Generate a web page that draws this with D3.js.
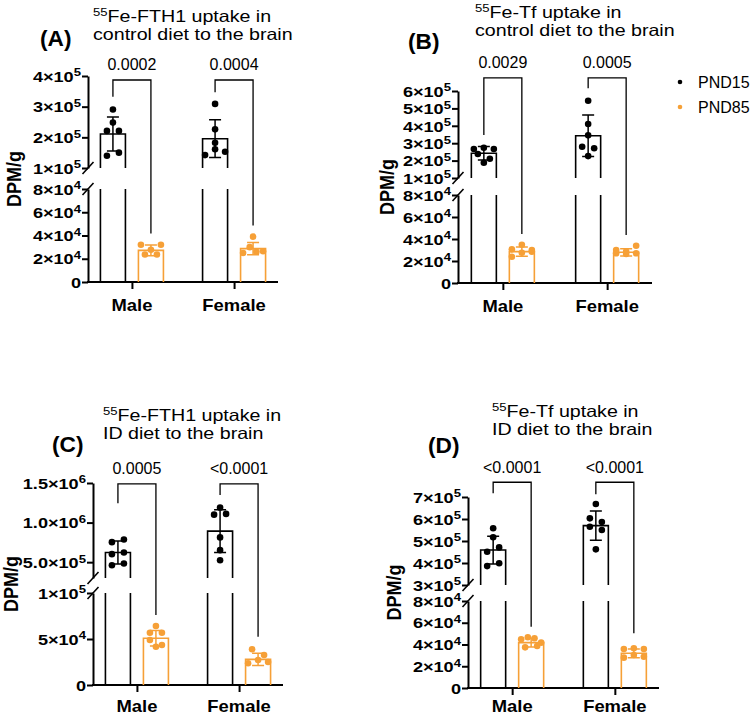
<!DOCTYPE html>
<html><head><meta charset="utf-8">
<script src="https://cdn.jsdelivr.net/npm/d3@7"></script>
<style>body{margin:0;background:#fff}svg{display:block}</style>
</head><body><svg id="c" width="750" height="718"></svg>
<script>
// ---------- DATA ----------
const categories = ["Male", "Female"];
const series = ["PND15", "PND85"];
const panelLetters = ["(A)", "(B)", "(C)", "(D)"];
const titleSup = "55";
const titleLine1 = ["Fe-FTH1 uptake in", "Fe-Tf uptake in", "Fe-FTH1 uptake in", "Fe-Tf uptake in"];
const titleLine2 = ["control diet to the brain", "control diet to the brain", "ID diet to the brain", "ID diet to the brain"];
const yLabel = "DPM/g";

// Panel A
const aMean15 = [2.11e5, 1.955e5], aSd15 = [0.555e5, 0.615e5];
const aMean85 = [2.72e4, 2.87e4], aSd85 = [0.465e4, 0.525e4];
const aPts15Male = [2.21e5, 1.40e5, 2.91e5, 2.48e5, 2.21e5, 1.50e5];
const aPts15Female = [1.42e5, 3.09e5, 2.26e5, 1.82e5, 1.61e5, 1.53e5];
const aPts85Male = [3.2e4, 2.36e4, 2.78e4, 3.2e4, 2.36e4];
const aPts85Female = [2.5e4, 3.9e4, 3.0e4, 2.6e4, 2.65e4];
const aPValues = ["0.0002", "0.0004"];
const aLowerTicks = [0, 2e4, 4e4, 6e4, 8e4], aUpperTicks = [1e5, 2e5, 3e5, 4e5];
const aLowerDomain = [0, 8e4], aUpperDomain = [1e5, 4e5];
const aBracketLevel = 3.87e5, aBracketLeft = [3.32e5, 3.47e5], aBracketRight = [4.17e4, 4.85e4];

// Panel B
const bMean15 = [2.42e5, 3.43e5], bSd15 = [0.385e5, 1.19e5];
const bMean85 = [2.85e4, 2.79e4], bSd85 = [0.42e4, 0.33e4];
const bPts15Male = [2.67e5, 1.88e5, 2.74e5, 2.38e5, 2.67e5, 2.11e5];
const bPts15Female = [2.80e5, 5.44e5, 4.10e5, 3.45e5, 2.26e5, 2.71e5];
const bPts85Male = [2.39e4, 3.06e4, 3.48e4, 2.75e4, 3.0e4, 2.85e4];
const bPts85Female = [2.7e4, 3.0e4, 2.85e4, 2.64e4, 3.39e4, 2.7e4];
const bPValues = ["0.0029", "0.0005"];
const bLowerTicks = [0, 2e4, 4e4, 6e4, 8e4], bUpperTicks = [1e5, 2e5, 3e5, 4e5, 5e5, 6e5];
const bLowerDomain = [0, 8e4], bUpperDomain = [1e5, 6e5];
const bBracketLevel = 6.75e5, bBracketLeft = [3.47e5, 6.16e5], bBracketRight = [4.45e4, 4.36e4];

// Panel C
const cMean15 = [6.23e5, 8.92e5], cSd15 = [1.45e5, 2.7e5];
const cMean85 = [5.08e4, 2.79e4], cSd85 = [0.85e4, 0.67e4];
const cPts15Male = [7.53e5, 6.01e5, 4.62e5, 7.87e5, 6.23e5, 4.83e5];
const cPts15Female = [1.10e6, 1.19e6, 8.13e5, 6.52e5, 5.25e5, 1.11e6];
const cPts85Male = [5.68e4, 4.16e4, 6.41e4, 4.89e4, 5.68e4, 4.35e4];
const cPts85Female = [2.36e4, 3.88e4, 3.26e4, 2.72e4, 2.5e4];
const cPValues = ["0.0005", "<0.0001"];
const cLowerTicks = [0, 5e4, 1e5], cUpperTicks = [5e5, 1e6, 1.5e6];
const cLowerDomain = [0, 1e5], cUpperDomain = [3e5, 1.5e6];
const cBracketLevel = 1.49e6, cBracketLeft = [1.243e6, 1.348e6], cBracketRight = [7.6e4, 5.25e4];

// Panel D
const dMean15 = [4.59e5, 5.7e5], dSd15 = [0.63e5, 0.665e5];
const dMean85 = [4.17e4, 3.19e4], dSd85 = [0.4e4, 0.4e4];
const dPts15Male = [4.51e5, 3.86e5, 5.58e5, 5.17e5, 4.71e5, 3.99e5];
const dPts15Female = [6.03e5, 6.68e5, 5.65e5, 4.62e5, 5.86e5, 5.5e5];
const dPts85Male = [3.74e4, 4.48e4, 4.66e4, 4.57e4, 3.86e4, 4.17e4];
const dPts85Female = [3.59e4, 2.79e4, 3.65e4, 3.03e4, 3.59e4, 2.88e4];
const dPValues = ["<0.0001", "<0.0001"];
const dLowerTicks = [0, 2e4, 4e4, 6e4, 8e4], dUpperTicks = [3e5, 4e5, 5e5, 6e5, 7e5];
const dLowerDomain = [0, 8e4], dUpperDomain = [3e5, 7e5];
const dBracketLevel = 7.67e5, dBracketLeft = [7.17e5, 7.12e5], dBracketRight = [5.64e4, 5.03e4];

// ---------- assembled per-panel data ----------
const panelData = [
  {means: [aMean15, aMean85], sds: [aSd15, aSd85], pts: [[aPts15Male, aPts15Female], [aPts85Male, aPts85Female]],
   p: aPValues, lowerTicks: aLowerTicks, upperTicks: aUpperTicks, lowerDomain: aLowerDomain, upperDomain: aUpperDomain,
   level: aBracketLevel, bl: aBracketLeft, br: aBracketRight, upperDec: 0},
  {means: [bMean15, bMean85], sds: [bSd15, bSd85], pts: [[bPts15Male, bPts15Female], [bPts85Male, bPts85Female]],
   p: bPValues, lowerTicks: bLowerTicks, upperTicks: bUpperTicks, lowerDomain: bLowerDomain, upperDomain: bUpperDomain,
   level: bBracketLevel, bl: bBracketLeft, br: bBracketRight, upperDec: 0},
  {means: [cMean15, cMean85], sds: [cSd15, cSd85], pts: [[cPts15Male, cPts15Female], [cPts85Male, cPts85Female]],
   p: cPValues, lowerTicks: cLowerTicks, upperTicks: cUpperTicks, lowerDomain: cLowerDomain, upperDomain: cUpperDomain,
   level: cBracketLevel, bl: cBracketLeft, br: cBracketRight, upperDec: 1},
  {means: [dMean15, dMean85], sds: [dSd15, dSd85], pts: [[dPts15Male, dPts15Female], [dPts85Male, dPts85Female]],
   p: dPValues, lowerTicks: dLowerTicks, upperTicks: dUpperTicks, lowerDomain: dLowerDomain, upperDomain: dUpperDomain,
   level: dBracketLevel, bl: dBracketLeft, br: dBracketRight, upperDec: 0}
];

// ---------- LAYOUT ----------
const layouts = [
  {axisX: 88, axisEnd: 278, lowerRange: [282, 189], upperRange: [168, 76], tx: 93, ty1: 21.5, ty2: 40, lx: 40, ly: 45.5, yx: 20.5, yy: 179},
  {axisX: 458, axisEnd: 652, lowerRange: [283, 195], upperRange: [178, 91], tx: 475, ty1: 17.5, ty2: 35.5, lx: 408, ly: 49, yx: 394, yy: 187},
  {axisX: 93, axisEnd: 283, lowerRange: [685, 593], upperRange: [578, 483], tx: 103, ty1: 420.5, ty2: 438.5, lx: 52, ly: 452, yx: 18, yy: 584},
  {axisX: 468, axisEnd: 659, lowerRange: [688, 601], upperRange: [585, 497], tx: 492, ty1: 417, ty2: 435, lx: 428, ly: 452.5, yx: 401, yy: 592.5}
];
const FONT = "'Liberation Sans', Arial, Helvetica, sans-serif";
const ORANGE = "#F6A037";
const colorOf = {PND15: "#000000", PND85: ORANGE};
const R = 3.3;

const svg = d3.select("#c");

function txt(parent, x, y, sx, size, weight, anchor) {
  return parent.append("text")
    .attr("transform", `translate(${x},${y}) scale(${sx},1)`)
    .attr("font-family", FONT).attr("font-size", size).attr("font-weight", weight)
    .attr("text-anchor", anchor).attr("fill", "#000");
}

function sciParts(v, dec) {
  if (v === 0) return ["0", null];
  const e = Math.floor(Math.log10(v) + 1e-9);
  const m = v / Math.pow(10, e);
  return [m.toFixed(dec) + "\u00d710", String(e)];
}

function rowLayout(vals, yf) {
  const items = vals.map((v, i) => ({v, i, y: yf(v)}));
  const sorted = items.slice().sort((a, b) => a.y - b.y || a.i - b.i);
  const rows = [];
  let cur = null;
  for (const it of sorted) {
    if (cur && it.y - cur[0].y < 6) cur.push(it);
    else { cur = [it]; rows.push(cur); }
  }
  for (const row of rows) {
    row.sort((a, b) => a.i - b.i);
    const k = row.length;
    const s = k > 1 ? Math.min(12, 20 / (k - 1)) : 0;
    row.forEach((it, j) => { it.dx = (j - (k - 1) / 2) * s; });
  }
  return items;
}

function drawPanel(L, D, pi) {
  const g = svg.append("g");
  const x = d3.scalePoint().domain(categories).range([L.axisX, L.axisEnd]).padding(0.43);
  const xs = d3.scaleBand().domain(series).range([-31.5, 31.5]).paddingInner(0.342);
  const lower = d3.scaleLinear().domain(D.lowerDomain).range(L.lowerRange);
  const upper = d3.scaleLinear().domain(D.upperDomain).range(L.upperRange);
  const brk = D.lowerDomain[1];
  const y = v => v > brk ? upper(v) : lower(v);
  const base = lower(0);
  const bw = xs.bandwidth();
  const cxOf = (c, s) => x(c) + xs(s) + bw / 2;

  // y axis segments
  [[lower, D.lowerTicks, 0], [upper, D.upperTicks, D.upperDec]].forEach(([sc, ticks, dec]) => {
    const ax = g.append("g").attr("transform", `translate(${L.axisX},0)`)
      .call(d3.axisLeft(sc).tickValues(ticks).tickSize(6).tickSizeOuter(0).tickFormat(""));
    ax.selectAll(".domain,.tick line").attr("stroke", "#000").attr("stroke-width", 2);
    ax.selectAll(".tick").each(function (d) {
      const [main, sup] = sciParts(d, dec);
      const t = txt(d3.select(this), -7, 0, 1.25, 14.5, "bold", "end").attr("dy", "0.36em");
      t.append("tspan").text(main);
      if (sup) t.append("tspan").attr("font-size", 10.5).attr("dy", "-0.5em").text(sup);
    });
  });
  // break slashes
  [L.upperRange[0], L.lowerRange[1]].forEach(yy => {
    g.append("line").attr("x1", L.axisX - 5.5).attr("y1", yy + 6).attr("x2", L.axisX + 5.5).attr("y2", yy - 6)
      .attr("stroke", "#000").attr("stroke-width", 1.6);
  });
  // x axis
  const xa = g.append("g").attr("transform", `translate(0,${base})`)
    .call(d3.axisBottom(x).tickSize(7).tickSizeOuter(0).tickFormat(""));
  xa.selectAll(".domain,.tick line").attr("stroke", "#000").attr("stroke-width", 2);
  xa.select(".domain").attr("d", `M${L.axisX - 1},0H${L.axisEnd}`);
  categories.forEach(c => txt(g, x(c), Math.min(base + 28.5, 712), 1.13, 16.3, "bold", "middle").text(c));

  // bars, error bars, points
  series.forEach((s, si) => {
    categories.forEach((c, ci) => {
      const m = D.means[si][ci], sd = D.sds[si][ci];
      const cx = cxOf(c, s), x0 = cx - bw / 2, x1 = cx + bw / 2;
      const col = colorOf[s];
      let d;
      if (m > brk) {
        const ub = L.upperRange[0], lt = L.lowerRange[1];
        d = `M${x0},${ub}V${upper(m)}H${x1}V${ub}M${x0},${lt}V${base}M${x1},${lt}V${base}`;
      } else {
        d = `M${x0},${base}V${lower(m)}H${x1}V${base}`;
      }
      g.append("path").attr("d", d).attr("fill", "none").attr("stroke", col).attr("stroke-width", 1.6);
      const yt = y(m + sd), yb = y(m - sd);
      g.append("path").attr("d", `M${cx - 6},${yt}H${cx + 6}M${cx},${yt}V${yb}M${cx - 6},${yb}H${cx + 6}`)
        .attr("fill", "none").attr("stroke", col).attr("stroke-width", 1.5);
      const pts = rowLayout(D.pts[si][ci], y);
      g.selectAll(null).data(pts).enter().append("circle")
        .attr("cx", p => cx + p.dx).attr("cy", p => p.y).attr("r", R).attr("fill", col);
    });
  });

  // brackets & p-values
  categories.forEach((c, ci) => {
    const lx = cxOf(c, series[0]), rx = cxOf(c, series[1]);
    const ly = y(D.level);
    g.append("path").attr("d", `M${lx},${y(D.bl[ci])}V${ly}H${rx}V${y(D.br[ci])}`)
      .attr("fill", "none").attr("stroke", "#000").attr("stroke-width", 1.3);
    txt(g, (lx + rx) / 2, ly - 9.5, 1.0, 16, "normal", "middle").text(D.p[ci]);
  });

  // titles
  const t1 = txt(g, L.tx, L.ty1, 1.19, 16.5, "normal", "start");
  t1.append("tspan").attr("font-size", 11).attr("dy", -6).text(titleSup);
  t1.append("tspan").attr("dy", 6).text(titleLine1[pi]);
  txt(g, L.tx, L.ty2, 1.19, 16.5, "normal", "start").text(titleLine2[pi]);
  txt(g, L.lx, L.ly, 1.03, 22, "bold", "start").text(panelLetters[pi]);
  // y label
  g.append("text").attr("transform", `translate(${L.yx},${L.yy}) rotate(-90) scale(1,1.13)`)
    .attr("font-family", FONT).attr("font-size", 18).attr("font-weight", "bold")
    .attr("text-anchor", "middle").text(yLabel);
}

layouts.forEach((L, i) => drawPanel(L, panelData[i], i));

// legend
const legend = svg.append("g");
const legendY = d3.scalePoint().domain(series).range([82, 107]);
series.forEach(s => {
  legend.append("circle").attr("cx", 680).attr("cy", legendY(s)).attr("r", 2.3).attr("fill", colorOf[s]);
  txt(legend, 698, legendY(s) + 5.5, 1.0, 16, "normal", "start").text(s);
});
</script></body></html>
